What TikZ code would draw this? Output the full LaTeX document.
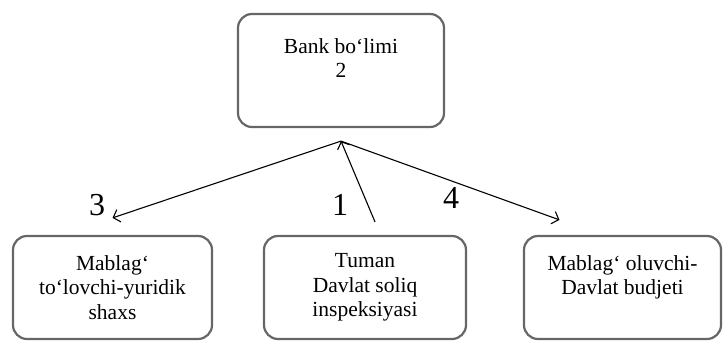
\documentclass[tikz,border=0pt]{standalone}
\usepackage{fontspec}
\setmainfont{Liberation Serif}
\usetikzlibrary{arrows.meta}

\tikzset{
  box/.style={draw=black!60,line width=2.2pt,rounded corners=14pt,align=center,inner sep=0pt,
    font=\fontsize{21.5}{24.5}\selectfont},
  arr/.style={line width=1.1pt,-{Straight Barb[length=6pt,width=13pt]}},
  num/.style={font=\fontsize{32}{32}\selectfont}
}

\begin{document}
\begin{tikzpicture}[x=1pt,y=-1pt]
	\useasboundingbox (0,0) rectangle (724,344);

	\node[box,minimum width=206pt,minimum height=113pt] (bank) at (341,70.5) {Bank bo‘limi\\2\\~};

	\node[box,minimum width=199pt,minimum height=103pt] (payer) at (112.5,287.5) {Mablag‘\\to‘lovchi-yuridik\\shaxs};
	\node[box,minimum width=202pt,minimum height=103pt] (tax) at (365,287.5) {Tuman\\Davlat soliq\\inspeksiyasi};
	\node[box,minimum width=197pt,minimum height=103pt] (budget) at (622.5,287.5) {Mablag‘ oluvchi-\\Davlat budjeti\\~};

	\coordinate (hub) at ([yshift=-13pt]bank.south);

	\draw[arr] (hub) -- ([yshift=17pt]payer.north);
	\draw[arr] ([xshift=10pt,yshift=13pt]tax.north) -- (hub);
	\draw[arr] (hub) -- ([xshift=-63pt,yshift=15pt]budget.north);

	\node[num] (n3) at (97,205) {3};
	\node[num] (n1) at (340,205) {1};
	\node[num] (n4) at (451,198) {4};
\end{tikzpicture}
\end{document}
